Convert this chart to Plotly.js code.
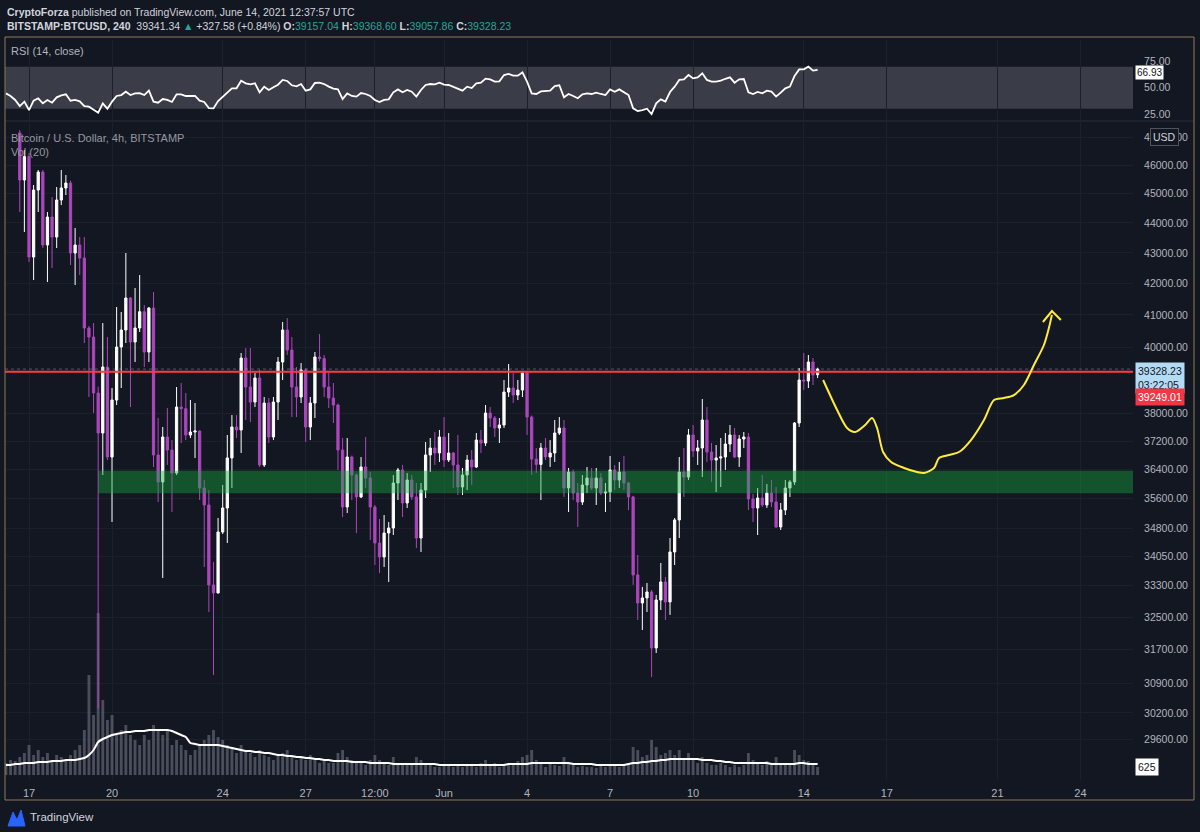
<!DOCTYPE html>
<html><head><meta charset="utf-8">
<script src="https://cdn.plot.ly/plotly-3.0.1.min.js"></script>
<style>html,body{margin:0;padding:0;background:#131722;}#chart{width:1200px;height:832px;}</style>
</head><body><div id="chart"></div>
<script>
// 4h candles BITSTAMP:BTCUSD, first candle 2021-05-16 04:00 UTC
const openP = [48600,48100,47900,
47150,45474,46300,42863,45126,45754,43260,44200,43526,44781,
45196,45370,42995,43260,42830,40588,40308,38611,37443,39390,
36760,38404,40000,40526,41534,40154,40588,41100,39847,41216,
36817,36061,37329,36958,36310,38198,38150,37386,37472,37500,
35895,35430,33319,33115,34702,35348,36732,37617,37530,39663,
38790,38345,39059,36535,38316,37329,38345,39542,40526,39908,
38790,38493,39300,37617,38316,39694,39650,38790,38463,38257,
36958,35375,36760,36254,35648,36479,36171,35375,34410,34043,
34675,34809,36033,36394,35484,36116,35648,34542,35840,36817,
37015,36873,37329,36675,36873,36535,35923,36254,36675,36479,
37242,37157,38023,37877,37588,37674,38641,38760,38552,38700,
39209,37906,36700,36550,37015,36760,36873,37443,37588,35895,
36338,35757,35511,35978,36171,35895,36171,35757,35785,36394,
36116,36338,36033,35648,33576,32861,32988,33140,31745,32936,
33396,32886,34174,35023,36338,36199,37386,36930,37015,37819,
36901,36675,36732,36760,37128,37386,36760,37271,37329,35593,
35348,35620,35430,35757,35511,34836,35293,35895,36061,37732,
38999,38969,39542,39157.04];
const highP = [49200,48500,48200,
47250,46534,46427,45300,45825,45825,44370,44884,45230,45825,
45649,45450,43828,43526,43526,40650,40744,38800,40744,40308,
38760,41248,41090,42995,41566,41854,42274,41312,41250,41726,
37877,37617,38169,37242,38790,38909,38611,38404,38316,37520,
36116,35840,33912,35077,35978,37386,37964,37964,39816,39969,
39969,39209,39300,38493,38463,38493,39694,40776,40900,40308,
39390,39512,39350,38493,39847,40401,39755,39209,38909,38300,
37300,37300,36800,36300,36760,37329,36338,35430,35050,35158,
34970,36254,36451,36535,36310,36254,36033,36033,37185,37300,
37472,37530,37906,37443,36901,37386,36451,36817,36958,37443,
37530,38257,38198,37935,37877,38999,39481,39209,39000,39240,
39240,37950,37015,37157,37300,37242,37819,37906,37819,36451,
36400,36033,36254,36479,36451,36451,36310,36033,36788,36535,
36619,36788,36060,35680,34095,33268,33370,33191,33064,33886,
33524,34542,35077,36760,37015,37559,37674,37242,38434,38198,
37157,37100,37300,37443,37674,37588,37386,37472,37443,35730,
35895,36254,36005,36116,35923,35484,36116,36116,37761,39360,
39816,39755,39663,39368.60];
const lowP = [47900,47700,47600,
44370,43694,42699,42112,44370,43160,42048,42502,43160,44609,
44953,42600,41951,42274,40123,38493,38023,30300,36254,36675,
34970,38257,38760,40123,38198,39542,40464,39390,39542,36479,
35511,33498,36535,35239,36254,37157,37242,37300,36732,35566,
33782,32635,31092,33100,34650,34410,35895,37300,36873,37819,
37761,38198,36479,36479,37157,37242,37819,38999,39755,37906,
37906,38316,37185,37242,37877,39560,38493,38169,37732,36394,
35104,35212,35566,34675,35620,35895,34490,33834,33627,33782,
33396,34622,35566,35104,35348,35566,34279,34174,35620,36338,
36535,36619,36479,36619,35895,35702,35702,35840,35978,36451,
36873,37071,37617,37329,37157,37588,38493,38316,38404,38493,
37386,36254,36310,35566,36675,36479,36619,37386,35648,35239,
35566,34836,35430,35757,35840,35430,35702,35239,35511,35840,
35895,35840,35293,33319,32434,32186,32635,31045,31623,32685,
32434,32560,33834,34542,35648,36116,36760,36535,36199,36619,
36061,35785,35923,36394,36901,36732,36479,37015,35293,34970,
34622,35375,35348,35375,34809,34755,35158,35648,35978,37617,
38700,38760,38850,39057.86];
const closeP = [48100,47900,47650,
45474,46300,42863,45126,45754,43260,44200,43526,44781,45196,
45370,42995,43260,42830,40588,40308,38611,37443,39390,36760,
38404,40000,40526,41534,40154,40588,41100,39847,41216,36817,
36061,37329,36958,36310,38198,38150,37386,37472,37500,35895,
35430,33319,33115,34702,35348,36732,37617,37530,39663,38790,
38345,39059,36535,38316,37329,38345,39542,40526,39908,38790,
38493,39300,37617,38316,39694,39650,38790,38463,38257,36958,
35375,36760,36254,35648,36479,36171,35375,34410,34043,34675,
34809,36033,36394,35484,36116,35648,34542,35840,36817,37015,
36873,37329,36675,36873,36535,35923,36254,36675,36479,37242,
37157,38023,37877,37588,37674,38641,38760,38552,38700,39209,
37906,36700,36550,37015,36760,36873,37443,37588,35895,36338,
35757,35511,35978,36171,35895,36171,35757,35785,36394,36116,
36338,36033,35648,33576,32861,32988,33140,31745,32936,33396,
32886,34174,35023,36338,36199,37386,36930,37015,37819,36901,
36675,36732,36760,37128,37386,36760,37271,37329,35593,35348,
35620,35430,35757,35511,34836,35293,35895,36061,37732,38999,
38969,39542,39149,39328.23];
const volume = [936,1170,1092,1404,1716,2340,1560,1950,1404,1716,1170,1560,1404,1092,1560,1950,2340,3510,7800,4680,12636,
5850,4290,4680,3120,3510,3900,3120,2730,2340,3120,
2730,3900,3510,3120,3510,2340,2730,2340,1950,1560,
1950,2340,2730,3120,3510,2964,2730,2340,2184,1716,
2340,1950,1716,1404,1950,1560,1404,1170,1560,1716,
1950,1404,1170,1404,1170,1560,1170,936,1092,936,
936,1716,1950,1404,1170,936,936,780,1170,1560,
1170,936,780,1404,936,936,780,780,1404,1170,
936,780,624,624,780,780,624,702,624,780,
702,624,936,1170,780,936,624,780,936,936,
1092,1404,1560,1950,1170,936,624,936,780,702,
1404,936,780,624,702,624,624,546,702,624,
780,702,624,780,936,2184,1950,1404,1560,2730,
2184,1560,1716,1950,1560,1950,1170,1716,1170,936,
1404,936,780,780,936,780,624,780,624,780,
1716,1170,936,780,1092,936,1404,936,780,936,
1950,1560,1170,1092,936,625];
const volumeMA = [780,780,858,858,936,936,936,1014,1014,1014,1092,1092,1092,1170,1170,1170,
1248,1326,1560,1950,2574,
2808,2964,3120,3198,3276,3354,3354,3432,3432,3432,
3510,3510,3510,3510,3510,3432,3276,3120,2964,2496,
2418,2340,2340,2340,2340,2340,2262,2184,2106,2028,
1950,1872,1872,1794,1794,1716,1716,1638,1560,1560,
1482,1482,1404,1404,1326,1326,1248,1248,1170,1170,
1092,1092,1092,1092,1014,1014,1014,1014,936,936,
936,936,936,858,858,858,858,858,858,858,
858,858,858,780,780,780,780,780,780,780,
780,780,780,780,780,780,780,780,858,858,
858,858,858,936,936,936,936,936,936,936,
936,936,858,858,858,858,858,780,780,780,
780,780,780,780,858,936,936,1014,1014,1092,
1092,1170,1170,1248,1248,1248,1248,1248,1248,1248,
1170,1170,1170,1092,1092,1014,1014,936,936,936,
936,936,936,936,936,858,858,858,858,858,
858,936,936,858,858,858];
const rsi = [44.6,42.1,38.3,32.5,36.7,28.7,37.6,39.9,35.1,38.3,
35.7,40.8,42.7,43.7,37.6,38.3,37.0,32.5,31.9,28.7,
26.2,35.1,30.0,36.7,42.1,43.0,46.2,43.0,44.6,44.9,
43.0,47.2,36.7,35.7,39.2,38.3,36.4,43.7,43.7,42.1,
42.1,42.1,37.6,36.4,30.6,30.3,37.3,41.5,45.9,49.4,
49.4,56.7,54.2,53.2,54.2,45.6,51.0,47.8,50.4,52.9,
57.4,56.4,52.3,51.3,53.5,47.2,48.4,54.5,54.8,53.5,
51.0,49.1,48.4,39.2,44.6,42.1,41.5,44.9,44.0,42.1,
38.3,36.4,38.3,38.9,45.6,48.4,45.6,47.8,46.2,41.5,
47.8,52.6,53.5,53.2,54.8,52.9,52.6,51.0,49.1,47.2,
51.0,49.7,54.2,54.8,58.6,58.0,55.8,56.1,62.1,63.1,
61.5,61.5,64.7,55.8,44.6,44.0,46.5,46.5,47.2,51.6,
52.3,40.8,44.0,42.1,39.9,43.7,44.6,44.0,45.3,44.0,
43.0,48.4,46.2,48.4,45.6,43.0,30.3,27.8,28.7,30.0,
24.9,35.1,38.9,36.7,45.9,51.0,57.4,58.0,62.1,58.9,
59.9,63.7,57.4,55.8,55.8,56.7,58.5,59.9,54.8,58.0,
58.3,45.6,44.0,45.9,44.6,47.2,46.2,41.5,45.3,49.4,
51.0,61.2,67.5,67.5,70.1,66.3,66.93];

const priceTicks = [29600,30200,30900,31700,32500,33300,34050,34800,35600,36400,37200,38000,40000,41000,42000,43000,44000,45000,46000,47000];
const dateTicks = ['2021-05-17','2021-05-20','2021-05-24','2021-05-27','2021-05-29 12:00','2021-06-01','2021-06-04','2021-06-07','2021-06-10','2021-06-14','2021-06-17','2021-06-21','2021-06-24'];
const dateTickText = ['17','20','24','27','12:00','Jun','4','7','10','14','17','21','24'];
const xRange = ['2021-05-16 03:11','2021-06-25 21:34'];
const supportZone = [35750, 36375];
const zoneStart = '2021-05-19 12:00';
const horizontalLevel = 39249.01;
const lastPrice = 39328.23;
const sketchTime = ['2021-06-14 16:48','2021-06-15 04:57','2021-06-15 13:36','2021-06-15 20:33','2021-06-16 05:12','2021-06-16 11:15','2021-06-16 15:36','2021-06-16 20:47','2021-06-17 03:43','2021-06-17 15:00','2021-06-18 02:15','2021-06-18 08:20','2021-06-18 17:00','2021-06-18 21:19','2021-06-19 05:58','2021-06-19 14:38','2021-06-20 01:02','2021-06-20 12:18','2021-06-20 20:58','2021-06-21 05:38','2021-06-21 14:18','2021-06-21 22:58','2021-06-22 07:38','2021-06-22 16:18','2021-06-22 20:37','2021-06-22 23:14'];
const sketchPrice = [38999,38110,37588,37472,37674,37877,37588,36901,36619,36451,36338,36310,36451,36732,36817,36901,37242,37819,38404,38463,38552,38850,39451,40062,40588,41000];
const arrowTime = ['2021-06-22 15:26','2021-06-22 23:14','2021-06-23 07:00'];
const arrowPrice = [40776,41120,40838];

function fmt(ms){const d=new Date(ms);const p=n=>String(n).padStart(2,'0');
  return d.getUTCFullYear()+'-'+p(d.getUTCMonth()+1)+'-'+p(d.getUTCDate())+' '+p(d.getUTCHours())+':'+p(d.getUTCMinutes());}
const t0 = Date.UTC(2021,4,16,4,0);
const times = openP.map((_,k)=>fmt(t0 + k*4*3600e3));

const PURPLE = '#ab47bc';
const traces = [
  {type:'scatter', mode:'lines', x:times, y:rsi, xaxis:'x', yaxis:'y', line:{color:'#ffffff', width:1.8}, hoverinfo:'skip'},
  {type:'bar', x:times, y:volume, xaxis:'x', yaxis:'y2', width:9.0e6, marker:{color:'rgba(120,123,138,0.55)', line:{width:0}}, hoverinfo:'skip'},
  {type:'scatter', mode:'lines', x:times, y:volumeMA, xaxis:'x', yaxis:'y2', line:{color:'#ffffff', width:2, shape:'spline', smoothing:0.6}, hoverinfo:'skip'},
  {type:'candlestick', x:times, open:openP, high:highP, low:lowP, close:closeP, xaxis:'x', yaxis:'y3', whiskerwidth:0,
    increasing:{line:{color:'#ffffff', width:1}, fillcolor:'#ffffff'},
    decreasing:{line:{color:PURPLE, width:1}, fillcolor:PURPLE}, hoverinfo:'skip'},
  {type:'scatter', mode:'lines', x:[zoneStart, xRange[1], xRange[1], zoneStart, zoneStart], y:[supportZone[0],supportZone[0],supportZone[1],supportZone[1],supportZone[0]],
    xaxis:'x', yaxis:'y3', fill:'toself', fillcolor:'rgba(20,170,60,0.42)', line:{width:0}, hoverinfo:'skip'},
  {type:'scatter', mode:'lines', x:xRange, y:[lastPrice,lastPrice], xaxis:'x', yaxis:'y3', line:{color:'rgba(179,217,245,0.35)', width:1, dash:'dot'}, hoverinfo:'skip'},
  {type:'scatter', mode:'lines', x:xRange, y:[horizontalLevel,horizontalLevel], xaxis:'x', yaxis:'y3', line:{color:'#ff3d3d', width:2}, hoverinfo:'skip'},
  {type:'scatter', mode:'lines', x:sketchTime, y:sketchPrice, xaxis:'x', yaxis:'y3', line:{color:'#ffeb3b', width:2, shape:'spline', smoothing:0.8}, hoverinfo:'skip'},
  {type:'scatter', mode:'lines', x:arrowTime, y:arrowPrice, xaxis:'x', yaxis:'y3', line:{color:'#ffeb3b', width:2}, hoverinfo:'skip'}
];

const px = v => (v-5)/1128, py = v => (780-v)/740;
const FONT = 'Liberation Sans, Arial, sans-serif';
const layout = {
  width:1200, height:832, margin:{l:5, r:67, t:40, b:52},
  paper_bgcolor:'#131722', plot_bgcolor:'#131722', showlegend:false,
  font:{family:FONT, color:'#b2b5be', size:11},
  xaxis:{type:'date', range:xRange, anchor:'y2', domain:[0,1], rangeslider:{visible:false},
    tickmode:'array', tickvals:dateTicks, ticktext:dateTickText, tickfont:{size:11, color:'#b2b5be'},
    ticks:'outside', ticklen:3, tickcolor:'rgba(0,0,0,0)', showgrid:true, gridcolor:'#1c202b', showline:false, zeroline:false, fixedrange:true},
  yaxis:{domain:[0.8919,1], range:[19.2,95.5], side:'right', anchor:'x', tickmode:'array', tickvals:[25,50,75], ticktext:['25.00','50.00','75.00'],
    showgrid:false, zeroline:false, ticks:'outside', ticklen:8, tickcolor:'rgba(0,0,0,0)', tickfont:{size:10.5, color:'#b2b5be'}, fixedrange:true},
  yaxis2:{domain:[0,0.8892], range:[-390,50934], visible:false, anchor:'x', fixedrange:true},
  yaxis3:{type:'log', overlaying:'y2', side:'right', anchor:'x', range:[4.45763,4.67712], tickmode:'array', tickvals:priceTicks,
    ticktext:priceTicks.map(v=>v.toFixed(2)), showgrid:true, gridcolor:'#1c202b', zeroline:false,
    ticks:'outside', ticklen:8, tickcolor:'rgba(0,0,0,0)', tickfont:{size:10.5, color:'#b2b5be'}, fixedrange:true},
  shapes:[
    {type:'rect', xref:'paper', yref:'y', x0:0, x1:1, y0:30, y1:70, fillcolor:'#3a3d48', line:{width:0}, layer:'below'},
    {type:'line', xref:'paper', yref:'paper', x0:0, x1:px(1194), y0:py(121), y1:py(121), line:{color:'#2a2e39', width:1}},
    {type:'rect', xref:'paper', yref:'paper', x0:0, x1:px(1194), y0:py(800), y1:py(37), line:{color:'#8b7b58', width:1}, fillcolor:'rgba(0,0,0,0)', layer:'above'},
    {type:'path', xref:'paper', yref:'paper', path:`M ${px(8)} ${py(826)} L ${px(13)} ${py(812)} L ${px(17)} ${py(820)} L ${px(21)} ${py(810)} L ${px(25)} ${py(826)} Z`, fillcolor:'#2962ff', line:{color:'#2962ff', width:1}}
  ],
  annotations:[
    {xref:'paper', yref:'paper', x:0, y:py(12), xanchor:'left', yanchor:'middle', showarrow:false, align:'left',
      text:'<b>CryptoForza</b> published on TradingView.com, June 14, 2021 12:37:57 UTC', font:{size:10.5, color:'#d1d4dc'}},
    {xref:'paper', yref:'paper', x:0, y:py(26), xanchor:'left', yanchor:'middle', showarrow:false, align:'left',
      text:'<b>BITSTAMP:BTCUSD, 240</b>  39341.34 <span style="color:#26a69a">▲</span> +327.58 (+0.84%) <b>O:</b><span style="color:#26a69a">39157.04</span> <b>H:</b><span style="color:#26a69a">39368.60</span> <b>L:</b><span style="color:#26a69a">39057.86</span> <b>C:</b><span style="color:#26a69a">39328.23</span>',
      font:{size:10.5, color:'#d1d4dc'}},
    {xref:'paper', yref:'paper', x:px(9), y:py(51), xanchor:'left', yanchor:'middle', showarrow:false, text:'RSI (14, close)', font:{size:11, color:'#b2b5be'}},
    {xref:'paper', yref:'paper', x:px(9), y:py(138), xanchor:'left', yanchor:'middle', showarrow:false, text:'Bitcoin / U.S. Dollar, 4h, BITSTAMP', font:{size:11, color:'#9598a1'}},
    {xref:'paper', yref:'paper', x:px(9), y:py(152), xanchor:'left', yanchor:'middle', showarrow:false, text:'Vol (20)', font:{size:11, color:'#9598a1'}},
    {xref:'paper', yref:'paper', x:px(28), y:py(817), xanchor:'left', yanchor:'middle', showarrow:false, text:'TradingView', font:{size:11.5, color:'#d1d4dc'}},
    {xref:'paper', yref:'paper', x:px(1164), y:py(137), xanchor:'center', yanchor:'middle', showarrow:false, text:'USD',
      bgcolor:'#131722', bordercolor:'#50535e', borderwidth:1, borderpad:2, font:{size:10.5, color:'#d1d4dc'}},
    {xref:'paper', yref:'y', x:1, y:66.93, xanchor:'left', yanchor:'middle', xshift:2, yshift:-3, showarrow:false, text:'66.93',
      bgcolor:'#ffffff', borderpad:1, font:{size:10, color:'#131722'}},
    {xref:'paper', yref:'y3', x:1, y:Math.log10(lastPrice), xanchor:'left', yanchor:'top', xshift:2, yshift:7, showarrow:false, align:'left',
      text:'39328.23<br>03:22:05', bgcolor:'#b3dbf6', borderpad:2, font:{size:10.5, color:'#131722'}},
    {xref:'paper', yref:'y3', x:1, y:Math.log10(horizontalLevel), xanchor:'left', yanchor:'middle', xshift:2, yshift:-25, showarrow:false,
      text:'39249.01', bgcolor:'#f23645', borderpad:2, font:{size:10.5, color:'#ffffff'}},
    {xref:'paper', yref:'y2', x:1, y:625, xanchor:'left', yanchor:'middle', xshift:2, showarrow:false, text:'625',
      bgcolor:'#ffffff', borderpad:2, font:{size:10.5, color:'#131722'}}
  ]
};
Plotly.newPlot('chart', traces, layout, {displayModeBar:false, staticPlot:true});
</script>
</body></html>
